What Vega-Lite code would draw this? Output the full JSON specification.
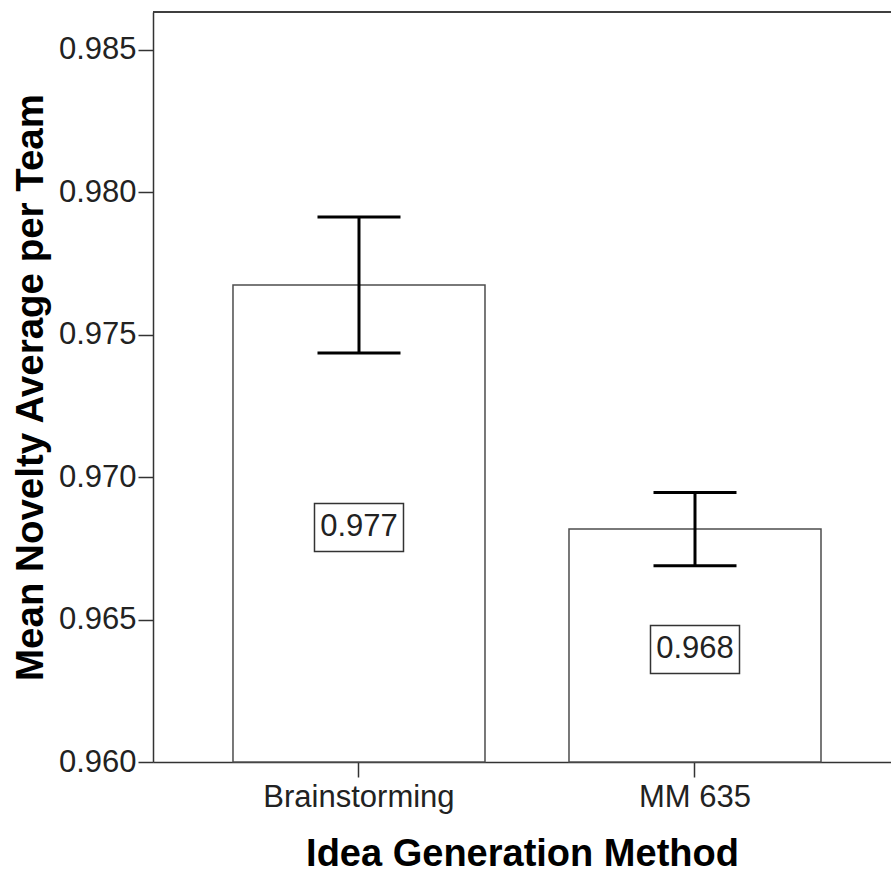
{
  "$schema": "https://vega.github.io/schema/vega-lite/v6.json",
  "width": 738,
  "height": 750,
  "autosize": {"type": "none"},
  "padding": {"left": 153, "top": 12, "right": 0, "bottom": 111},
  "background": "white",
  "config": {"view": {"stroke": null}, "font": "Liberation Sans"},
  "data": {"values": [
    {"method": "Brainstorming", "mean": 0.97675, "lower": 0.97436, "upper": 0.97913},
    {"method": "MM 635", "mean": 0.96818, "lower": 0.96689, "upper": 0.96946}
  ]},
  "transform": [{"calculate": "(datum.mean + 0.96) / 2", "as": "mid"}],
  "layer": [
    {
      "mark": {"type": "bar", "fill": "white", "stroke": "#4d4d4d", "strokeWidth": 1.5},
      "encoding": {
        "x": {"field": "method", "type": "nominal", "sort": null,
          "scale": {"paddingInner": 0.25, "paddingOuter": 0.2232, "align": 0.5333},
          "axis": {"labelAngle": 0, "tickSize": 15, "tickWidth": 1.5, "tickColor": "#333", "domainColor": "#333", "domainWidth": 1.5,
            "labelFontSize": 31, "labelColor": "#222", "labelPadding": 5, "labelFont": "Liberation Sans", "labelLimit": 0,
            "title": "Idea Generation Method", "titleFontSize": 38, "titleFontWeight": "bold", "titleColor": "#000", "titlePadding": 23, "titleFont": "Liberation Sans", "titleLimit": 0}},
        "y": {"field": "mean", "type": "quantitative",
          "scale": {"domain": [0.96, 0.98633], "nice": false, "zero": false},
          "axis": {"values": [0.96, 0.965, 0.97, 0.975, 0.98, 0.985], "format": ".3f", "grid": false,
            "tickSize": 15, "tickWidth": 1.5, "tickColor": "#333", "domainColor": "#333", "domainWidth": 1.5,
            "labelFontSize": 31, "labelColor": "#222", "labelPadding": 2, "labelFont": "Liberation Sans", "labelLimit": 0,
            "title": "Mean Novelty Average per Team", "titleFontSize": 38.5, "titleFontWeight": "bold", "titleColor": "#000", "titlePadding": 8, "titleFont": "Liberation Sans", "titleLimit": 0}},
        "y2": {"datum": 0.96}
      }
    },
    {
      "mark": {"type": "rule", "color": "black", "strokeWidth": 3},
      "encoding": {
        "x": {"field": "method", "type": "nominal", "sort": null},
        "y": {"field": "lower", "type": "quantitative"},
        "y2": {"field": "upper"}
      }
    },
    {
      "mark": {"type": "tick", "color": "black", "thickness": 3, "size": 83, "opacity": 1},
      "encoding": {
        "x": {"field": "method", "type": "nominal", "sort": null},
        "y": {"field": "upper", "type": "quantitative"}
      }
    },
    {
      "mark": {"type": "tick", "color": "black", "thickness": 3, "size": 83, "opacity": 1},
      "encoding": {
        "x": {"field": "method", "type": "nominal", "sort": null},
        "y": {"field": "lower", "type": "quantitative"}
      }
    },
    {
      "mark": {"type": "point", "shape": "M-1,-0.539H1V0.539H-1Z", "size": 7921, "filled": false, "fill": "white", "fillOpacity": 1, "stroke": "#333", "strokeWidth": 1.5, "opacity": 1, "yOffset": 4},
      "encoding": {
        "x": {"field": "method", "type": "nominal", "sort": null},
        "y": {"field": "mid", "type": "quantitative"}
      }
    },
    {
      "mark": {"type": "text", "fontSize": 31, "color": "#222", "baseline": "middle", "align": "center", "yOffset": 4, "font": "Liberation Sans"},
      "encoding": {
        "x": {"field": "method", "type": "nominal", "sort": null},
        "y": {"field": "mid", "type": "quantitative"},
        "text": {"field": "mean", "type": "quantitative", "format": ".3f"}
      }
    },
    {
      "mark": {"type": "rule", "color": "#333", "strokeWidth": 1.5},
      "encoding": {
        "y": {"datum": 0.98633}
      }
    }
  ]
}
